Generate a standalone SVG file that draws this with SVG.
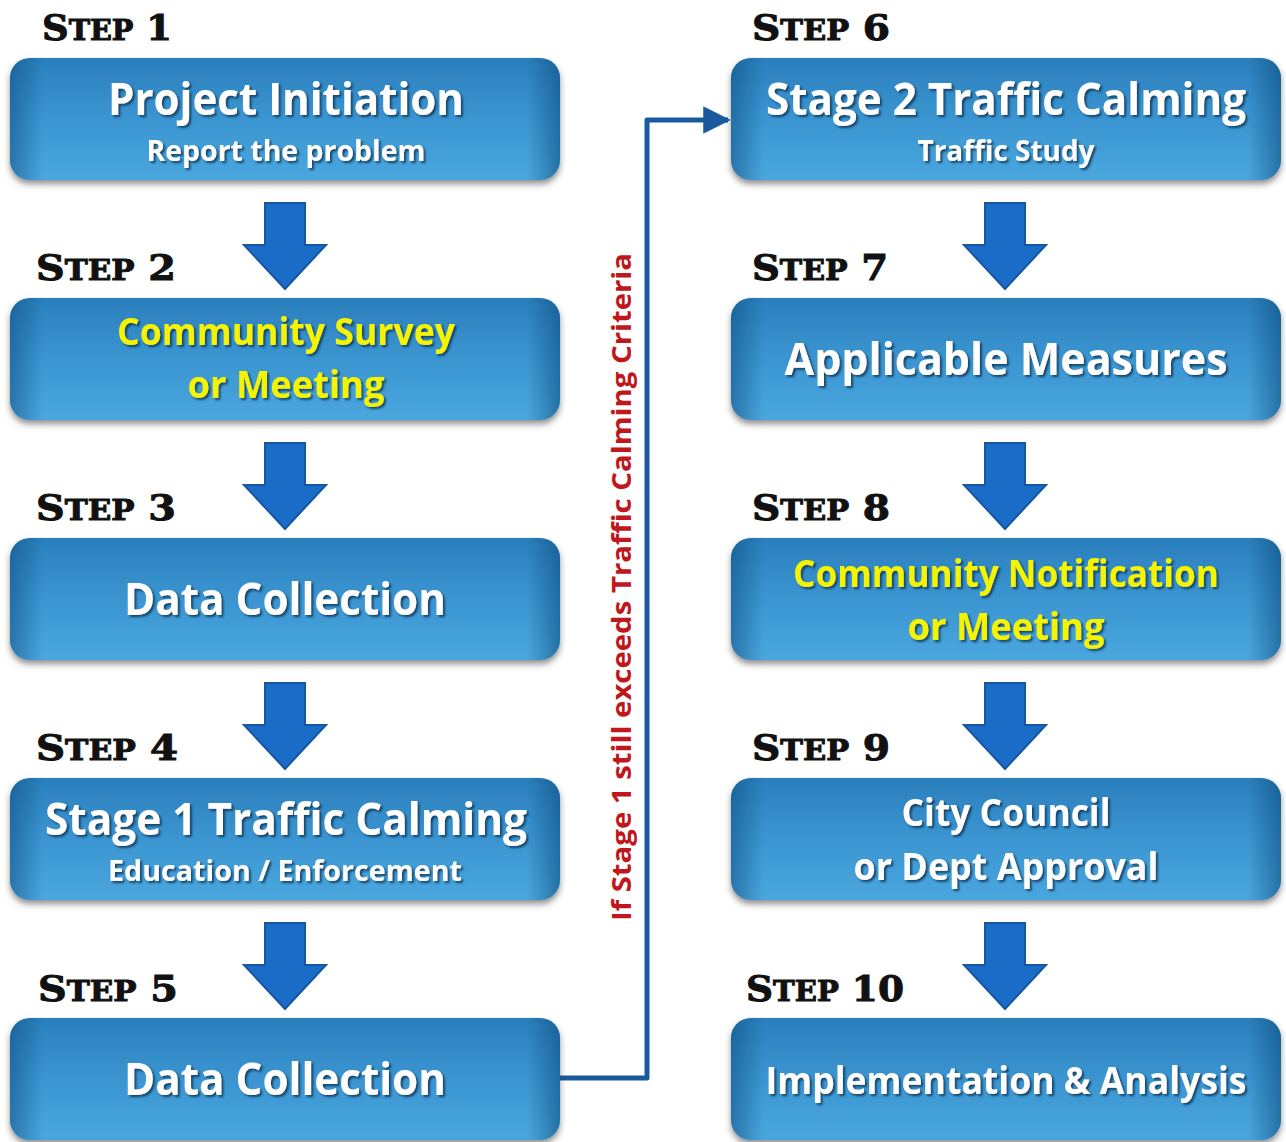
<svg xmlns="http://www.w3.org/2000/svg" width="1286" height="1142" viewBox="0 0 1286 1142">
  <defs>
    <linearGradient id="boxFill" x1="0" y1="0" x2="0" y2="1">
      <stop offset="0" stop-color="#2a7ebb"/>
      <stop offset="0.45" stop-color="#3993cf"/>
      <stop offset="1" stop-color="#4aa7de"/>
    </linearGradient>
    <linearGradient id="boxEdge" x1="0" y1="0" x2="1" y2="0">
      <stop offset="0" stop-color="#0f4f82" stop-opacity="0.55"/>
      <stop offset="0.06" stop-color="#0f4f82" stop-opacity="0"/>
      <stop offset="0.94" stop-color="#0f4f82" stop-opacity="0"/>
      <stop offset="1" stop-color="#0f4f82" stop-opacity="0.6"/>
    </linearGradient>
    <filter id="boxShadow" x="-5%" y="-10%" width="110%" height="130%">
      <feGaussianBlur in="SourceAlpha" stdDeviation="3"/>
      <feOffset dx="0" dy="4" result="b"/>
      <feFlood flood-color="#333" flood-opacity="0.55"/>
      <feComposite in2="b" operator="in"/>
      <feMerge><feMergeNode/><feMergeNode in="SourceGraphic"/></feMerge>
    </filter>
    <filter id="textShadow" x="-5%" y="-20%" width="110%" height="150%">
      <feGaussianBlur in="SourceAlpha" stdDeviation="1.2"/>
      <feOffset dx="1.5" dy="2" result="b"/>
      <feFlood flood-color="#0b2f50" flood-opacity="0.8"/>
      <feComposite in2="b" operator="in"/>
      <feMerge><feMergeNode/><feMergeNode in="SourceGraphic"/></feMerge>
    </filter>
    <g id="box">
      <rect x="0" y="0" width="550" height="122" rx="20" fill="url(#boxFill)"/>
      <rect x="0" y="0" width="550" height="122" rx="20" fill="url(#boxEdge)"/>
    </g>
    <path id="downArrow" d="M-20,0 H20 V42 H41 L0,86 L-41,42 H-20 Z"/>
    <marker id="arrowHead" viewBox="0 0 10 10" refX="9" refY="5" markerWidth="5.5" markerHeight="5.5" orient="auto" markerUnits="strokeWidth">
      <path d="M0,0 L10,5 L0,10 Z" fill="#1a5a9c"/>
    </marker>
  </defs>
  <style>
    .step { font-family: "DejaVu Serif", "Liberation Serif", serif; font-weight: bold; fill: #111; stroke: #111; stroke-width: 1; }
    .step .big { font-size: 36px; }
    .step .small { font-size: 28px; }
    .title { font-family: "Open Sans", "Noto Sans", sans-serif; font-weight: bold; fill: #ffffff; text-anchor: middle; }
    .yellow { fill: #f4f400; }
    .arrow { fill: #1b6cc7; stroke: #15589f; stroke-width: 2; }
    .note { font-family: "Open Sans", "Noto Sans", sans-serif; font-weight: bold; font-size: 27px; fill: #c0171c; text-anchor: middle; }
  </style>
  <rect width="1286" height="1142" fill="#ffffff"/>

  <!-- step headings -->
  <g id="step-labels">
    <text class="step" x="42" y="40" textLength="130" lengthAdjust="spacingAndGlyphs"><tspan class="big">S</tspan><tspan class="small">TEP</tspan><tspan class="big"> 1</tspan></text>
    <text class="step" x="36" y="280" textLength="140" lengthAdjust="spacingAndGlyphs"><tspan class="big">S</tspan><tspan class="small">TEP</tspan><tspan class="big"> 2</tspan></text>
    <text class="step" x="36" y="520" textLength="140" lengthAdjust="spacingAndGlyphs"><tspan class="big">S</tspan><tspan class="small">TEP</tspan><tspan class="big"> 3</tspan></text>
    <text class="step" x="36" y="760" textLength="142" lengthAdjust="spacingAndGlyphs"><tspan class="big">S</tspan><tspan class="small">TEP</tspan><tspan class="big"> 4</tspan></text>
    <text class="step" x="38" y="1001" textLength="140" lengthAdjust="spacingAndGlyphs"><tspan class="big">S</tspan><tspan class="small">TEP</tspan><tspan class="big"> 5</tspan></text>
    <text class="step" x="752" y="40" textLength="138" lengthAdjust="spacingAndGlyphs"><tspan class="big">S</tspan><tspan class="small">TEP</tspan><tspan class="big"> 6</tspan></text>
    <text class="step" x="752" y="280" textLength="136" lengthAdjust="spacingAndGlyphs"><tspan class="big">S</tspan><tspan class="small">TEP</tspan><tspan class="big"> 7</tspan></text>
    <text class="step" x="752" y="520" textLength="138" lengthAdjust="spacingAndGlyphs"><tspan class="big">S</tspan><tspan class="small">TEP</tspan><tspan class="big"> 8</tspan></text>
    <text class="step" x="752" y="760" textLength="138" lengthAdjust="spacingAndGlyphs"><tspan class="big">S</tspan><tspan class="small">TEP</tspan><tspan class="big"> 9</tspan></text>
    <text class="step" x="746" y="1001" textLength="158" lengthAdjust="spacingAndGlyphs"><tspan class="big">S</tspan><tspan class="small">TEP</tspan><tspan class="big"> 10</tspan></text>
  </g>

  <!-- connectors: step-to-step arrows and the loop to stage 2 -->
  <g id="connectors">
    <use href="#downArrow" class="arrow" x="285" y="203"/>
    <use href="#downArrow" class="arrow" x="285" y="443"/>
    <use href="#downArrow" class="arrow" x="285" y="683"/>
    <use href="#downArrow" class="arrow" x="285" y="923"/>
    <use href="#downArrow" class="arrow" x="1005" y="203"/>
    <use href="#downArrow" class="arrow" x="1005" y="443"/>
    <use href="#downArrow" class="arrow" x="1005" y="683"/>
    <use href="#downArrow" class="arrow" x="1005" y="923"/>
    <path d="M560,1078 H647 V120 H728" fill="none" stroke="#1a5a9c" stroke-width="5" stroke-linejoin="round" marker-end="url(#arrowHead)"/>
    <text class="note" transform="translate(631,587) rotate(-90)" textLength="668" lengthAdjust="spacingAndGlyphs">If Stage 1 still exceeds Traffic Calming Criteria</text>
  </g>

  <g id="node-1" filter="url(#boxShadow)">
    <use href="#box" x="10" y="58"/>
    <g filter="url(#textShadow)">
      <text class="title" x="286" y="115" font-size="44" textLength="356" lengthAdjust="spacingAndGlyphs">Project Initiation</text>
      <text class="title" x="286" y="161" font-size="29" textLength="279" lengthAdjust="spacingAndGlyphs">Report the problem</text>
    </g>
  </g>
  <g id="node-2" filter="url(#boxShadow)">
    <use href="#box" x="10" y="298"/>
    <g filter="url(#textShadow)">
      <text class="title yellow" x="286" y="345" font-size="37" textLength="338" lengthAdjust="spacingAndGlyphs">Community Survey</text>
      <text class="title yellow" x="286" y="398" font-size="37" textLength="197" lengthAdjust="spacingAndGlyphs">or Meeting</text>
    </g>
  </g>
  <g id="node-3" filter="url(#boxShadow)">
    <use href="#box" x="10" y="538"/>
    <g filter="url(#textShadow)">
      <text class="title" x="285" y="615" font-size="44" textLength="322" lengthAdjust="spacingAndGlyphs">Data Collection</text>
    </g>
  </g>
  <g id="node-4" filter="url(#boxShadow)">
    <use href="#box" x="10" y="778"/>
    <g filter="url(#textShadow)">
      <text class="title" x="286" y="835" font-size="44" textLength="482" lengthAdjust="spacingAndGlyphs">Stage 1 Traffic Calming</text>
      <text class="title" x="285" y="881" font-size="29" textLength="354" lengthAdjust="spacingAndGlyphs">Education / Enforcement</text>
    </g>
  </g>
  <g id="node-5" filter="url(#boxShadow)">
    <use href="#box" x="10" y="1018"/>
    <g filter="url(#textShadow)">
      <text class="title" x="285" y="1095" font-size="44" textLength="322" lengthAdjust="spacingAndGlyphs">Data Collection</text>
    </g>
  </g>
  <g id="node-6" filter="url(#boxShadow)">
    <use href="#box" x="731" y="58"/>
    <g filter="url(#textShadow)">
      <text class="title" x="1006" y="115" font-size="44" textLength="480" lengthAdjust="spacingAndGlyphs">Stage 2 Traffic Calming</text>
      <text class="title" x="1006" y="161" font-size="29" textLength="177" lengthAdjust="spacingAndGlyphs">Traffic Study</text>
    </g>
  </g>
  <g id="node-7" filter="url(#boxShadow)">
    <use href="#box" x="731" y="298"/>
    <g filter="url(#textShadow)">
      <text class="title" x="1006" y="375" font-size="44" textLength="443" lengthAdjust="spacingAndGlyphs">Applicable Measures</text>
    </g>
  </g>
  <g id="node-8" filter="url(#boxShadow)">
    <use href="#box" x="731" y="538"/>
    <g filter="url(#textShadow)">
      <text class="title yellow" x="1006" y="587" font-size="37" textLength="426" lengthAdjust="spacingAndGlyphs">Community Notification</text>
      <text class="title yellow" x="1006" y="640" font-size="37" textLength="197" lengthAdjust="spacingAndGlyphs">or Meeting</text>
    </g>
  </g>
  <g id="node-9" filter="url(#boxShadow)">
    <use href="#box" x="731" y="778"/>
    <g filter="url(#textShadow)">
      <text class="title" x="1006" y="826" font-size="37" textLength="209" lengthAdjust="spacingAndGlyphs">City Council</text>
      <text class="title" x="1006" y="880" font-size="37" textLength="305" lengthAdjust="spacingAndGlyphs">or Dept Approval</text>
    </g>
  </g>
  <g id="node-10" filter="url(#boxShadow)">
    <use href="#box" x="731" y="1018"/>
    <g filter="url(#textShadow)">
      <text class="title" x="1006" y="1094" font-size="37" textLength="481" lengthAdjust="spacingAndGlyphs">Implementation &amp; Analysis</text>
    </g>
  </g>
</svg>
